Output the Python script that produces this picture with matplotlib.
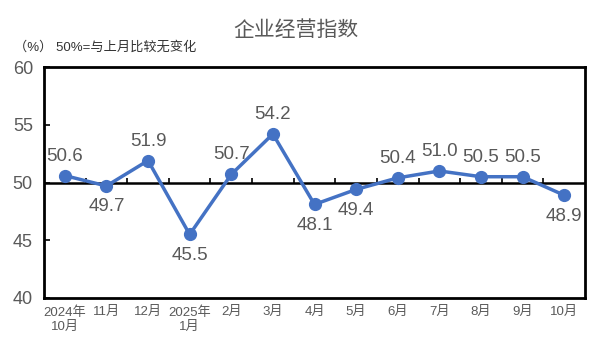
import matplotlib
matplotlib.use('Agg')
import matplotlib.pyplot as plt

plt.rcParams['font.family'] = ['Liberation Sans', 'Noto Sans CJK SC', 'DejaVu Sans']

# data
months = ['2024年\n10月', '11月', '12月', '2025年\n1月', '2月', '3月', '4月',
          '5月', '6月', '7月', '8月', '9月', '10月']
values = [50.6, 49.7, 51.9, 45.5, 50.7, 54.2, 48.1, 49.4, 50.4, 51.0, 50.5, 50.5, 48.9]
label_above = [True, False, True, False, True, True, False,
               False, True, True, True, True, False]
yticks = [40, 45, 50, 55, 60]

text_col = '#595959'
line_col = '#4472C4'

fig = plt.figure(figsize=(5.91, 3.54), dpi=100)
ax = fig.add_axes([44/591, 1-298/354, (585-44)/591, (298-67)/354])

x = list(range(len(values)))
ax.plot(x, values, color=line_col, lw=2.5, marker='o', markersize=8.5, zorder=3)

for xi, v, up in zip(x, values, label_above):
    off = 14 if up else -15
    ax.annotate(f'{v:.1f}', (xi, v), xytext=(0, off), textcoords='offset points',
                ha='center', va='center', fontsize=13.5, color=text_col)

# 50% reference line with small category ticks
ax.axhline(50, color='black', lw=1.8, zorder=2)
ax.vlines([i + 0.5 for i in range(len(values) - 1)], 50, 50.35, color='black', lw=1.2)

ax.set_xlim(-0.5, len(values) - 0.5)
ax.set_ylim(40, 60)
ax.set_yticks(yticks)
ax.set_xticks(x)
ax.set_xticklabels(months, fontsize=9.5, color=text_col, linespacing=1.2)
ax.tick_params(axis='x', length=0, pad=6)
ax.tick_params(axis='y', direction='in', length=4, width=1.2, labelsize=13,
               labelcolor=text_col, pad=8)
for s in ax.spines.values():
    s.set_linewidth(2)
    s.set_color('black')

fig.text(0.5, 1 - 30/354, '企业经营指数', ha='center', va='center',
         fontsize=15, color=text_col)
fig.text(14/591, 1 - 47/354, '（%） 50%=与上月比较无变化', ha='left', va='center',
         fontsize=9.5, color='#333333')

fig.savefig('out.png', dpi=100)
